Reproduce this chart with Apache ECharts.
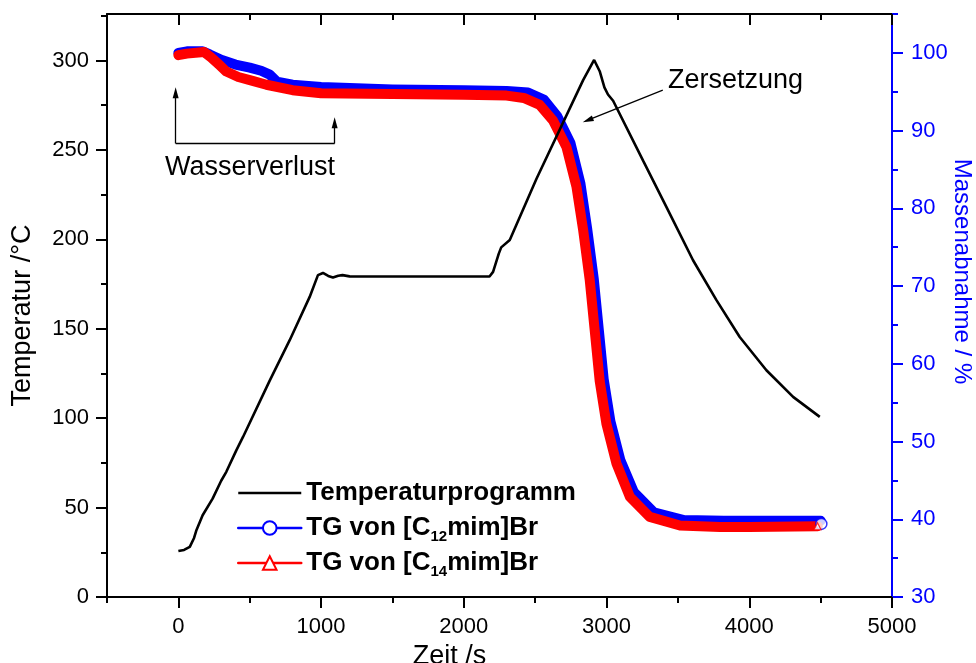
<!DOCTYPE html>
<html lang="de">

<head>
    <meta charset="UTF-8">
    <title>TG Temperaturprogramm</title>
</head>

<body style="height: 100%; margin: 0; background: #fff">
    <div id="main" style="width: 976px; height: 663px"></div>
    <script type="text/javascript" src="https://cdn.jsdelivr.net/npm/echarts@6.0.0/dist/echarts.min.js"></script>
    <script type="text/javascript">

        // Temperaturprogramm: [Zeit /s, Temperatur /°C]
        var tempProgram = [
            [0, 25.7], [40, 26.3], [80, 28], [110, 33], [125, 37], [170, 45.7], [240, 55],
            [300, 65], [336, 70], [406, 82], [453, 89.5], [640, 121], [780, 143.6],
            [920, 167.8], [978, 180], [1013, 181.2], [1050, 179.5], [1083, 178.6],
            [1120, 179.6], [1150, 180], [1200, 179.3], [1500, 179.2], [2000, 179.2],
            [2180, 179.2], [2205, 181.8], [2245, 192], [2262, 195.5], [2322, 199.6],
            [2510, 234], [2836, 289], [2913, 300.3], [2952, 294], [2985, 285], [3010, 281],
            [3046, 277.5], [3256, 244], [3420, 218], [3606, 188.3], [3770, 166],
            [3933, 145.4], [4120, 126.8], [4307, 111.9], [4494, 100.7]
        ];

        // TG-Kurven: [Zeit /s, Masse /%]
        var tgC12 = [
            [0, 100.0], [60, 100.2], [170, 100.2], [220, 99.8], [300, 99.1], [400, 98.5],
            [500, 98.1], [580, 97.7], [640, 97.2], [690, 96.3], [800, 95.9], [1000, 95.6],
            [1500, 95.3], [2000, 95.2], [2300, 95.1], [2450, 94.9], [2560, 94.0],
            [2653, 91.9], [2747, 88.4], [2817, 83.2], [2864, 77.4], [2910, 71.0],
            [2945, 64.5], [2980, 58.0], [3027, 52.6], [3097, 47.6], [3191, 43.5],
            [3331, 40.9], [3542, 39.9], [3822, 39.8], [4000, 39.8], [4500, 39.8]
        ];
        var tgC14 = [
            [0, 99.7], [60, 99.9], [180, 100.1], [230, 99.4], [290, 98.4], [336, 97.6],
            [420, 96.9], [520, 96.4], [617, 95.9], [800, 95.2], [1000, 94.8], [1500, 94.7],
            [2000, 94.6], [2300, 94.5], [2420, 94.2], [2532, 93.3], [2625, 91.3],
            [2719, 87.9], [2789, 82.8], [2836, 77.2], [2882, 70.8], [2917, 64.3],
            [2952, 57.8], [2999, 52.3], [3069, 47.2], [3163, 42.9], [3303, 40.3],
            [3514, 39.2], [3794, 39.0], [4000, 39.0], [4480, 39.1]
        ];
        var endC12 = [[4505, 39.4]];
        var endC14 = [[4478, 39.1]];

        var seriesNames = ['Temperaturprogramm', 'TG von [C12mim]Br', 'TG von [C14mim]Br'];

        // Achsen-Ticks
        var xMajor = [0, 1000, 2000, 3000, 4000, 5000];
        var xMinor = [-500, 500, 1500, 2500, 3500, 4500];
        var tMajor = [0, 50, 100, 150, 200, 250, 300];
        var tMinor = [25, 75, 125, 175, 225, 275, 325];
        var mMajor = [30, 40, 50, 60, 70, 80, 90, 100];
        var mMinor = [35, 45, 55, 65, 75, 85, 95, 105];

        // Pfeile der Beschriftungen (Datenkoordinaten der Temperaturachse)
        var arrowWasser = [[-19, 253.6], [-19, 282], [1095, 253.6], [1095, 265.2]];
        var arrowZersetzung = [[3394, 283.4], [2869, 266.6]];

        var FONT = 'Arial, "Liberation Sans", sans-serif';
        var BLUE = '#0000ff';
        var RED = '#ff0000';

        function plain(v) {
            return String(v);
        }

        function tickAxis(pos, min, max, values, len, inside, color, showLine) {
            return {
                type: 'value', position: pos, min: min, max: max,
                axisLine: { show: showLine, onZero: false, lineStyle: { color: color, width: 2 } },
                axisTick: { show: true, inside: inside, length: len, customValues: values, lineStyle: { color: color, width: 2 } },
                axisLabel: { show: false },
                splitLine: { show: false }
            };
        }

        var chartDom = document.getElementById('main');
        var myChart = echarts.init(chartDom);
        var option;

        var xBottom = tickAxis('bottom', -500, 5000, xMajor, 11, false, '#000', true);
        xBottom.axisLabel = { show: true, customValues: xMajor, formatter: plain, fontSize: 22, color: '#000', fontFamily: FONT, margin: 19 };
        xBottom.name = 'Zeit /s';
        xBottom.nameLocation = 'middle';
        xBottom.nameMoveOverlap = false;
        xBottom.nameGap = 46;
        xBottom.nameTextStyle = { fontSize: 27, color: '#000', fontFamily: FONT, padding: [0, 100, 0, 0] };

        var yLeft = tickAxis('left', 0, 326, tMajor, 11, false, '#000', true);
        yLeft.axisLabel = { show: true, customValues: tMajor, formatter: plain, fontSize: 22, color: '#000', fontFamily: FONT, margin: 18 };
        yLeft.name = 'Temperatur /°C';
        yLeft.nameLocation = 'middle';
        yLeft.nameMoveOverlap = false;
        yLeft.nameRotate = 90;
        yLeft.nameGap = 71;
        yLeft.nameTextStyle = { fontSize: 27, color: '#000', fontFamily: FONT, padding: [0, 20, 0, 0] };

        var yRight = tickAxis('right', 30, 105, mMajor, 11, false, BLUE, true);
        yRight.axisLabel = { show: true, customValues: mMajor, formatter: plain, fontSize: 22, color: BLUE, fontFamily: FONT, margin: 19 };
        yRight.name = 'Massenabnahme / %';
        yRight.nameLocation = 'middle';
        yRight.nameMoveOverlap = false;
        yRight.nameRotate = -90;
        yRight.nameGap = 58;
        yRight.nameTextStyle = { fontSize: 24, color: BLUE, fontFamily: FONT, padding: [0, 68, 0, 0] };

        option = {
            backgroundColor: '#fff',
            animation: false,
            grid: { left: 107, right: 84, top: 14, bottom: 66, containLabel: false, outerBoundsMode: 'none' },
            xAxis: [
                xBottom,
                tickAxis('bottom', -500, 5000, xMinor, 6, false, '#000', false),
                tickAxis('top', -500, 5000, xMajor, 11, true, '#000', true),
                tickAxis('top', -500, 5000, xMinor, 6, true, '#000', false)
            ],
            yAxis: [
                yLeft,
                tickAxis('left', 0, 326, tMinor, 6, false, '#000', false),
                yRight,
                tickAxis('right', 30, 105, mMinor, 6, false, BLUE, false)
            ],
            legend: {
                orient: 'vertical',
                left: 237,
                top: 477,
                padding: 0,
                itemWidth: 63,
                itemHeight: 17,
                itemGap: 3,
                selectedMode: false,
                data: [
                    { name: seriesNames[0], icon: 'path://M0,0L63,0L63,2.4L0,2.4Z' },
                    seriesNames[1],
                    seriesNames[2]
                ],
                lineStyle: { width: 2.5 },
                textStyle: {
                    fontSize: 26, fontWeight: 'bold', color: '#000', fontFamily: FONT, lineHeight: 32,
                    rich: {
                        s: { fontSize: 15, fontWeight: 'bold', color: '#000', fontFamily: FONT, lineHeight: 2, verticalAlign: 'bottom' }
                    }
                },
                formatter: function (name) {
                    var m = name.match(/^(.*\[C)(\d+)(.*)$/);
                    return m ? m[1] + '{s|' + m[2] + '}' + m[3] : name;
                }
            },
            graphic: [
                { type: 'text', x: 165, y: 168, style: { text: 'Wasserverlust', fontSize: 27, fontFamily: FONT, fill: '#000', verticalAlign: 'middle' } },
                { type: 'text', x: 668, y: 81, style: { text: 'Zersetzung', fontSize: 27, fontFamily: FONT, fill: '#000', verticalAlign: 'middle' } }
            ],
            series: [
                {
                    name: seriesNames[1], type: 'line', xAxisIndex: 0, yAxisIndex: 2,
                    data: tgC12, symbol: 'emptyCircle', showSymbol: false,
                    lineStyle: { color: BLUE, width: 10, cap: 'round', join: 'round' },
                    itemStyle: { color: BLUE }, z: 2
                },
                {
                    name: seriesNames[2], type: 'line', xAxisIndex: 0, yAxisIndex: 2,
                    data: tgC14, symbol: 'emptyTriangle', showSymbol: false,
                    lineStyle: { color: RED, width: 10, cap: 'round', join: 'round' },
                    itemStyle: { color: RED }, z: 3
                },
                {
                    type: 'scatter', xAxisIndex: 0, yAxisIndex: 2, data: endC12,
                    symbol: 'circle', symbolSize: 11,
                    itemStyle: { color: '#fff', borderColor: BLUE, borderWidth: 1.5 }, z: 4
                },
                {
                    type: 'scatter', xAxisIndex: 0, yAxisIndex: 2, data: endC14,
                    symbol: 'triangle', symbolSize: 7,
                    itemStyle: { color: '#fff', borderColor: RED, borderWidth: 1.2 }, z: 4
                },
                {
                    name: seriesNames[0], type: 'line', xAxisIndex: 0, yAxisIndex: 0,
                    data: tempProgram, symbol: 'none',
                    lineStyle: { color: '#000', width: 2.6 },
                    itemStyle: { color: '#000' }, z: 5,
                    markLine: {
                        silent: true,
                        symbol: 'none',
                        label: { show: false },
                        lineStyle: { color: '#000', width: 1.3, type: 'solid' },
                        emphasis: { disabled: true },
                        data: [
                            [{ coord: arrowWasser[0] }, { coord: arrowWasser[1], symbol: 'triangle', symbolSize: [6, 11] }],
                            [{ coord: arrowWasser[0] }, { coord: arrowWasser[2] }],
                            [{ coord: arrowWasser[2] }, { coord: arrowWasser[3], symbol: 'triangle', symbolSize: [6, 11] }],
                            [{ coord: arrowZersetzung[0] }, { coord: arrowZersetzung[1], symbol: 'triangle', symbolSize: [6, 11] }]
                        ]
                    }
                }
            ]
        };

        option && myChart.setOption(option);

    </script>
</body>

</html>
